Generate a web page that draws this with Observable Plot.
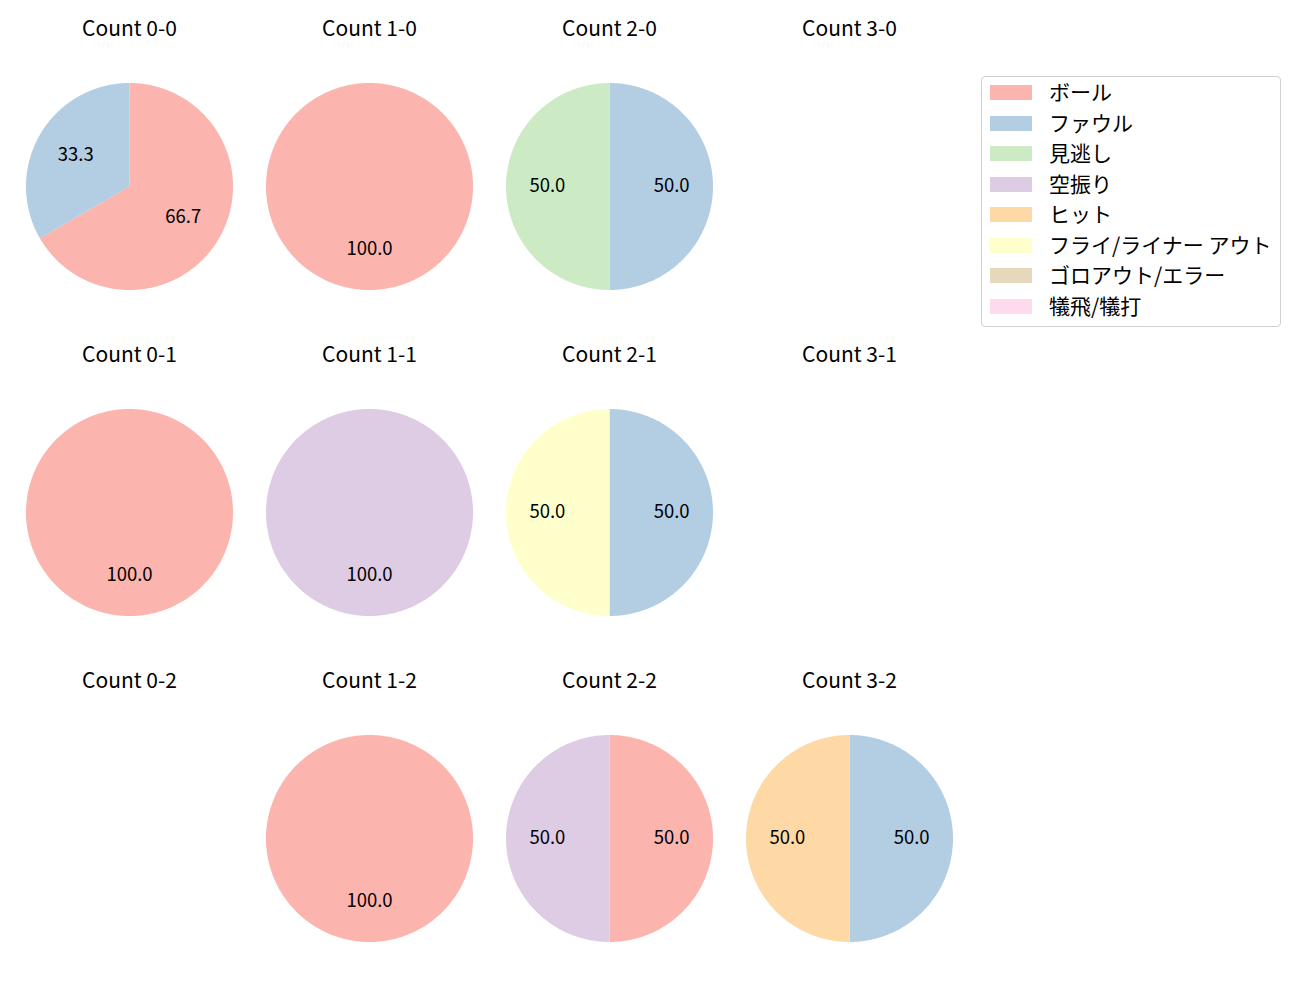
<!DOCTYPE html>
<html>
<head>
<meta charset="utf-8">
<script src="https://cdn.jsdelivr.net/npm/d3@7"></script>
<script src="https://cdn.jsdelivr.net/npm/@observablehq/plot@0.6"></script>
<style>
  html, body { margin: 0; padding: 0; background: #fff; }
  body { font-family: "Noto Sans CJK JP", "Noto Sans", sans-serif; }
  #wrap { position: relative; width: 1300px; height: 1000px; overflow: hidden; }
  #legend { position: absolute; left: 981px; top: 76px; width: 298px; height: 249px;
    border: 1px solid #d0d0d0; border-radius: 4px; background: #fff; }
  .item { position: absolute; left: 0; height: 20px; }
  .sw { position: absolute; left: 8px; width: 42px; height: 15px; }
  .lb { position: absolute; left: 67px; top: -1px; font-size: 21px; line-height: 20px; white-space: nowrap; color: #000; }
</style>
</head>
<body>
<div id="wrap"><div id="chart"></div><div id="legend"></div></div>
<script>
// Counts (balls-strikes), laid out 4 columns x 3 rows
const counts = ["0-0","1-0","2-0","3-0","0-1","1-1","2-1","3-1","0-2","1-2","2-2","3-2"];
const categories = ["ボール","ファウル","見逃し","空振り","ヒット","フライ/ライナー アウト","ゴロアウト/エラー","犠飛/犠打"];
const colors = ["#fbb4ae","#b3cde3","#ccebc5","#decbe4","#fed9a6","#ffffcc","#e5d8bd","#fddaec"];
// series values per count (same order as counts)
const ball     = [2,1,0,0, 1,0,0,0, 0,1,1,0];
const foul     = [1,0,1,0, 0,0,1,0, 0,0,0,1];
const looking  = [0,0,1,0, 0,0,0,0, 0,0,0,0];
const swinging = [0,0,0,0, 0,1,0,0, 0,0,1,0];
const hit      = [0,0,0,0, 0,0,0,0, 0,0,0,1];
const flyout   = [0,0,0,0, 0,0,1,0, 0,0,0,0];
const groundout= [0,0,0,0, 0,0,0,0, 0,0,0,0];
const sacrifice= [0,0,0,0, 0,0,0,0, 0,0,0,0];
const series = [ball, foul, looking, swinging, hit, flyout, groundout, sacrifice];

const wedges = [];   // polygon vertices
const labels = [];
const titles = [];
counts.forEach((c, i) => {
  const col = +c.split("-")[0];
  const row = +c.split("-")[1];
  titles.push({col, row, text: "Count " + c});
  const total = d3.sum(series, s => s[i]);
  if (!total) return;
  let start = 0;
  series.forEach((s, k) => {
    const v = s[i];
    if (!v) return;
    const a0 = start / total * 2 * Math.PI;
    const a1 = (start + v) / total * 2 * Math.PI;
    start += v;
    const id = c + "-" + k;
    const n = Math.max(2, Math.ceil((a1 - a0) / 0.01));
    if (a1 - a0 < 2 * Math.PI - 1e-9) wedges.push({id, col, row, fill: colors[k], x: 0, y: 0});
    for (let j = 0; j <= n; j++) {
      const a = a0 + (a1 - a0) * j / n;
      wedges.push({id, col, row, fill: colors[k], x: Math.sin(a), y: Math.cos(a)});
    }
    const am = (a0 + a1) / 2;
    labels.push({col, row, x: 0.6 * Math.sin(am), y: 0.6 * Math.cos(am), text: (v / total * 100).toFixed(1)});
  });
});

const R = 103.5;
const chart = Plot.plot({
  width: 1300,
  height: 1000,
  marginLeft: 9,
  marginRight: 331,
  marginTop: 23,
  marginBottom: 0,
  style: {fontFamily: "'Noto Sans CJK JP', 'Noto Sans', sans-serif", background: "transparent", overflow: "visible"},
  fx: {domain: [0,1,2,3], range: [9, 969], padding: 0, axis: null},
  fy: {domain: [0,1,2], range: [22.5, 1000.5], padding: 0, axis: null},
  x: {domain: [-120/R, 120/R], axis: null},
  y: {domain: [-163/R, 163/R], axis: null},
  marks: [
    Plot.line(wedges, {x: "x", y: "y", z: "id", fx: "col", fy: "row", fill: "fill", stroke: "none", curve: "linear-closed"}),
    Plot.text(labels, {x: "x", y: "y", fx: "col", fy: "row", text: "text", fontSize: 18.5, fill: "#000"}),
    Plot.text(titles, {x: 0, y: 157.5/R, fx: "col", fy: "row", text: "text", fontSize: 21, fill: "#000"})
  ]
});
document.getElementById("chart").appendChild(chart);

const legend = document.getElementById("legend");
categories.forEach((name, k) => {
  const top = 5 + k * 30.5;
  const item = document.createElement("div");
  item.className = "item";
  item.style.top = top + "px";
  item.innerHTML = `<div class="sw" style="top:3px;background:${colors[k]}"></div><div class="lb">${name}</div>`;
  legend.appendChild(item);
});
</script>
</body>
</html>
